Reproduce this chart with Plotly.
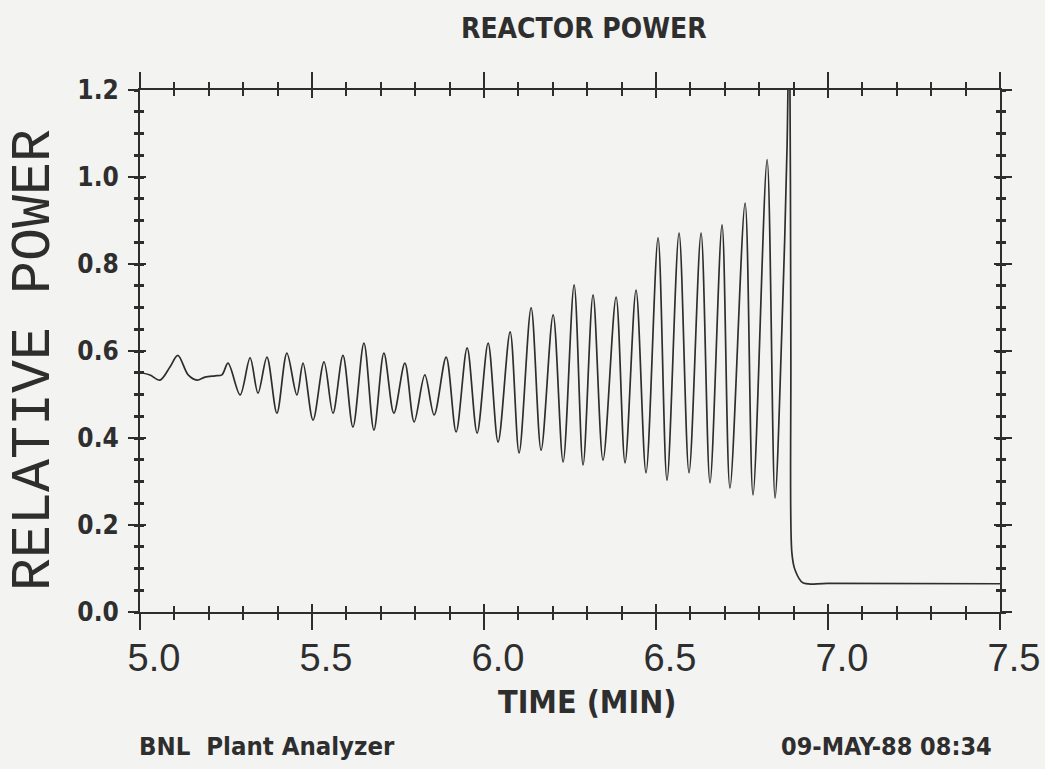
import plotly.graph_objects as go

# ---- data ----
# oscillation turning points: time (min) and relative power
osc_time = [5.003, 5.029, 5.058, 5.087, 5.110, 5.140, 5.166, 5.189, 5.218, 5.238,
            5.256, 5.291, 5.320, 5.343, 5.369, 5.398, 5.427, 5.456, 5.474, 5.503,
            5.535, 5.561, 5.590, 5.619, 5.651, 5.680, 5.709, 5.738, 5.770, 5.797,
            5.828, 5.855, 5.890, 5.919, 5.951, 5.980, 6.012, 6.041, 6.076, 6.102,
            6.137, 6.166, 6.201, 6.230, 6.262, 6.288, 6.317, 6.346, 6.384, 6.410,
            6.442, 6.471, 6.506, 6.532, 6.567, 6.596, 6.631, 6.657, 6.692, 6.715,
            6.759, 6.782, 6.823, 6.846]
osc_power = [0.550, 0.545, 0.533, 0.563, 0.590, 0.545, 0.533, 0.540, 0.543, 0.545,
             0.572, 0.499, 0.584, 0.503, 0.586, 0.457, 0.595, 0.499, 0.572, 0.441,
             0.575, 0.457, 0.590, 0.425, 0.618, 0.418, 0.595, 0.457, 0.572, 0.437,
             0.545, 0.453, 0.586, 0.414, 0.607, 0.411, 0.618, 0.391, 0.644, 0.366,
             0.699, 0.372, 0.683, 0.345, 0.752, 0.338, 0.729, 0.349, 0.724, 0.343,
             0.740, 0.320, 0.860, 0.303, 0.871, 0.320, 0.871, 0.297, 0.890, 0.285,
             0.940, 0.269, 1.040, 0.262]
# last (off-scale) excursion and scram
scram_time = [6.866, 6.881, 6.888, 6.892, 6.895, 6.904, 6.927, 7.000, 7.500]
scram_power = [0.650, 1.070, 1.450, 0.600, 0.136, 0.097, 0.067, 0.066, 0.065]

x_ticks = [5.0, 5.5, 6.0, 6.5, 7.0, 7.5]
x_tick_labels = ["5.0", "5.5", "6.0", "6.5", "7.0", "7.5"]
y_ticks = [0.0, 0.2, 0.4, 0.6, 0.8, 1.0, 1.2]
y_tick_labels = ["0.0", "0.2", "0.4", "0.6", "0.8", "1.0", "1.2"]

title_text = "REACTOR POWER"
x_title = "TIME (MIN)"
y_title = "RELATIVE POWER"
footer_left = "BNL  Plant Analyzer"
footer_right = "09-MAY-88 08:34"

# ---- styling ----
INK = "#2e2e2e"
BG = "#f3f3f1"
NARROW = "DejaVu Sans Condensed, Liberation Sans Narrow, Arial Narrow, sans-serif"

fig = go.Figure()
fig.add_trace(go.Scatter(x=osc_time + scram_time, y=osc_power + scram_power, mode="lines",
                         line=dict(color=INK, width=1.7, shape="spline", smoothing=0.9),
                         showlegend=False, hoverinfo="skip"))
# helper trace that carries the overlay axes (crossing ticks)
fig.add_trace(go.Scatter(x=[osc_time[0]], y=[osc_power[0]], mode="lines",
                         line=dict(color=INK, width=1.7),
                         xaxis="x2", yaxis="y2",
                         showlegend=False, hoverinfo="skip"))

xr = [5.0, 7.5]
yr = [0.0, 1.2]

common_x = dict(range=xr, showgrid=False, zeroline=False, linecolor=INK, linewidth=2,
                tickcolor=INK, tickwidth=2, tickvals=x_ticks, fixedrange=True,
                automargin=False)
common_y = dict(range=yr, showgrid=False, zeroline=False, linecolor=INK, linewidth=2,
                tickcolor=INK, tickwidth=2, tickvals=y_ticks, fixedrange=True,
                automargin=False)

fig.update_layout(
    width=1045, height=769,
    margin=dict(l=140, r=45, t=90, b=157, autoexpand=False),
    paper_bgcolor=BG, plot_bgcolor=BG,
    xaxis=dict(**common_x, ticks="outside", ticklen=16, mirror="ticks",
               ticktext=x_tick_labels, ticklabelshift=14, ticklabelstandoff=-5,
               tickfont=dict(family="Liberation Sans, Arial, sans-serif", size=38, color=INK),
               minor=dict(dtick=0.1, ticks="outside", ticklen=6, tickcolor=INK, tickwidth=1.5)),
    xaxis2=dict(**common_x, overlaying="x", side="bottom", anchor="y2",
                ticks="inside", ticklen=8, mirror="ticks", showticklabels=False,
                minor=dict(dtick=0.1, ticks="inside", ticklen=6, tickcolor=INK, tickwidth=1.5)),
    yaxis=dict(**common_y, ticks="outside", ticklen=10, mirror="ticks",
               ticktext=y_tick_labels, ticklabelstandoff=4,
               tickfont=dict(family=NARROW, size=26, color=INK, weight="bold"),
               minor=dict(dtick=0.05, ticks="outside", ticklen=4, tickcolor=INK, tickwidth=2.5)),
    yaxis2=dict(**common_y, overlaying="y", side="left", anchor="x2",
                ticks="inside", ticklen=6, mirror="ticks", showticklabels=False,
                minor=dict(dtick=0.05, ticks="inside", ticklen=4, tickcolor=INK, tickwidth=2.5)),
)

ann_font = dict(family=NARROW, color=INK, weight="bold")
fig.add_annotation(text=title_text, xref="paper", yref="paper",
                   x=(584 - 140) / 860, y=(612 - 29) / 522, xanchor="center", yanchor="middle",
                   showarrow=False, font=dict(**ann_font, size=28))
fig.add_annotation(text=x_title, xref="paper", yref="paper",
                   x=(587 - 140) / 860, y=(612 - 702) / 522, xanchor="center", yanchor="middle",
                   showarrow=False, font=dict(**ann_font, size=32))
fig.add_annotation(text=y_title, xref="paper", yref="paper",
                   x=(35 - 140) / 860, y=(612 - 360) / 522, xanchor="center", yanchor="middle",
                   textangle=-90, showarrow=False,
                   font=dict(family="Liberation Mono, Courier New, monospace", size=55, color=INK))
fig.add_annotation(text=footer_left, xref="paper", yref="paper",
                   x=(137 - 140) / 860, y=(612 - 746) / 522, xanchor="left", yanchor="middle",
                   showarrow=False, font=dict(**ann_font, size=25.5))
fig.add_annotation(text=footer_right, xref="paper", yref="paper",
                   x=(994 - 140) / 860, y=(612 - 746) / 522, xanchor="right", yanchor="middle",
                   showarrow=False, font=dict(**ann_font, size=25))

fig.write_html("out.html", config={"displayModeBar": False},
               post_script="document.body.style.margin='0';document.body.style.overflow='hidden';")
